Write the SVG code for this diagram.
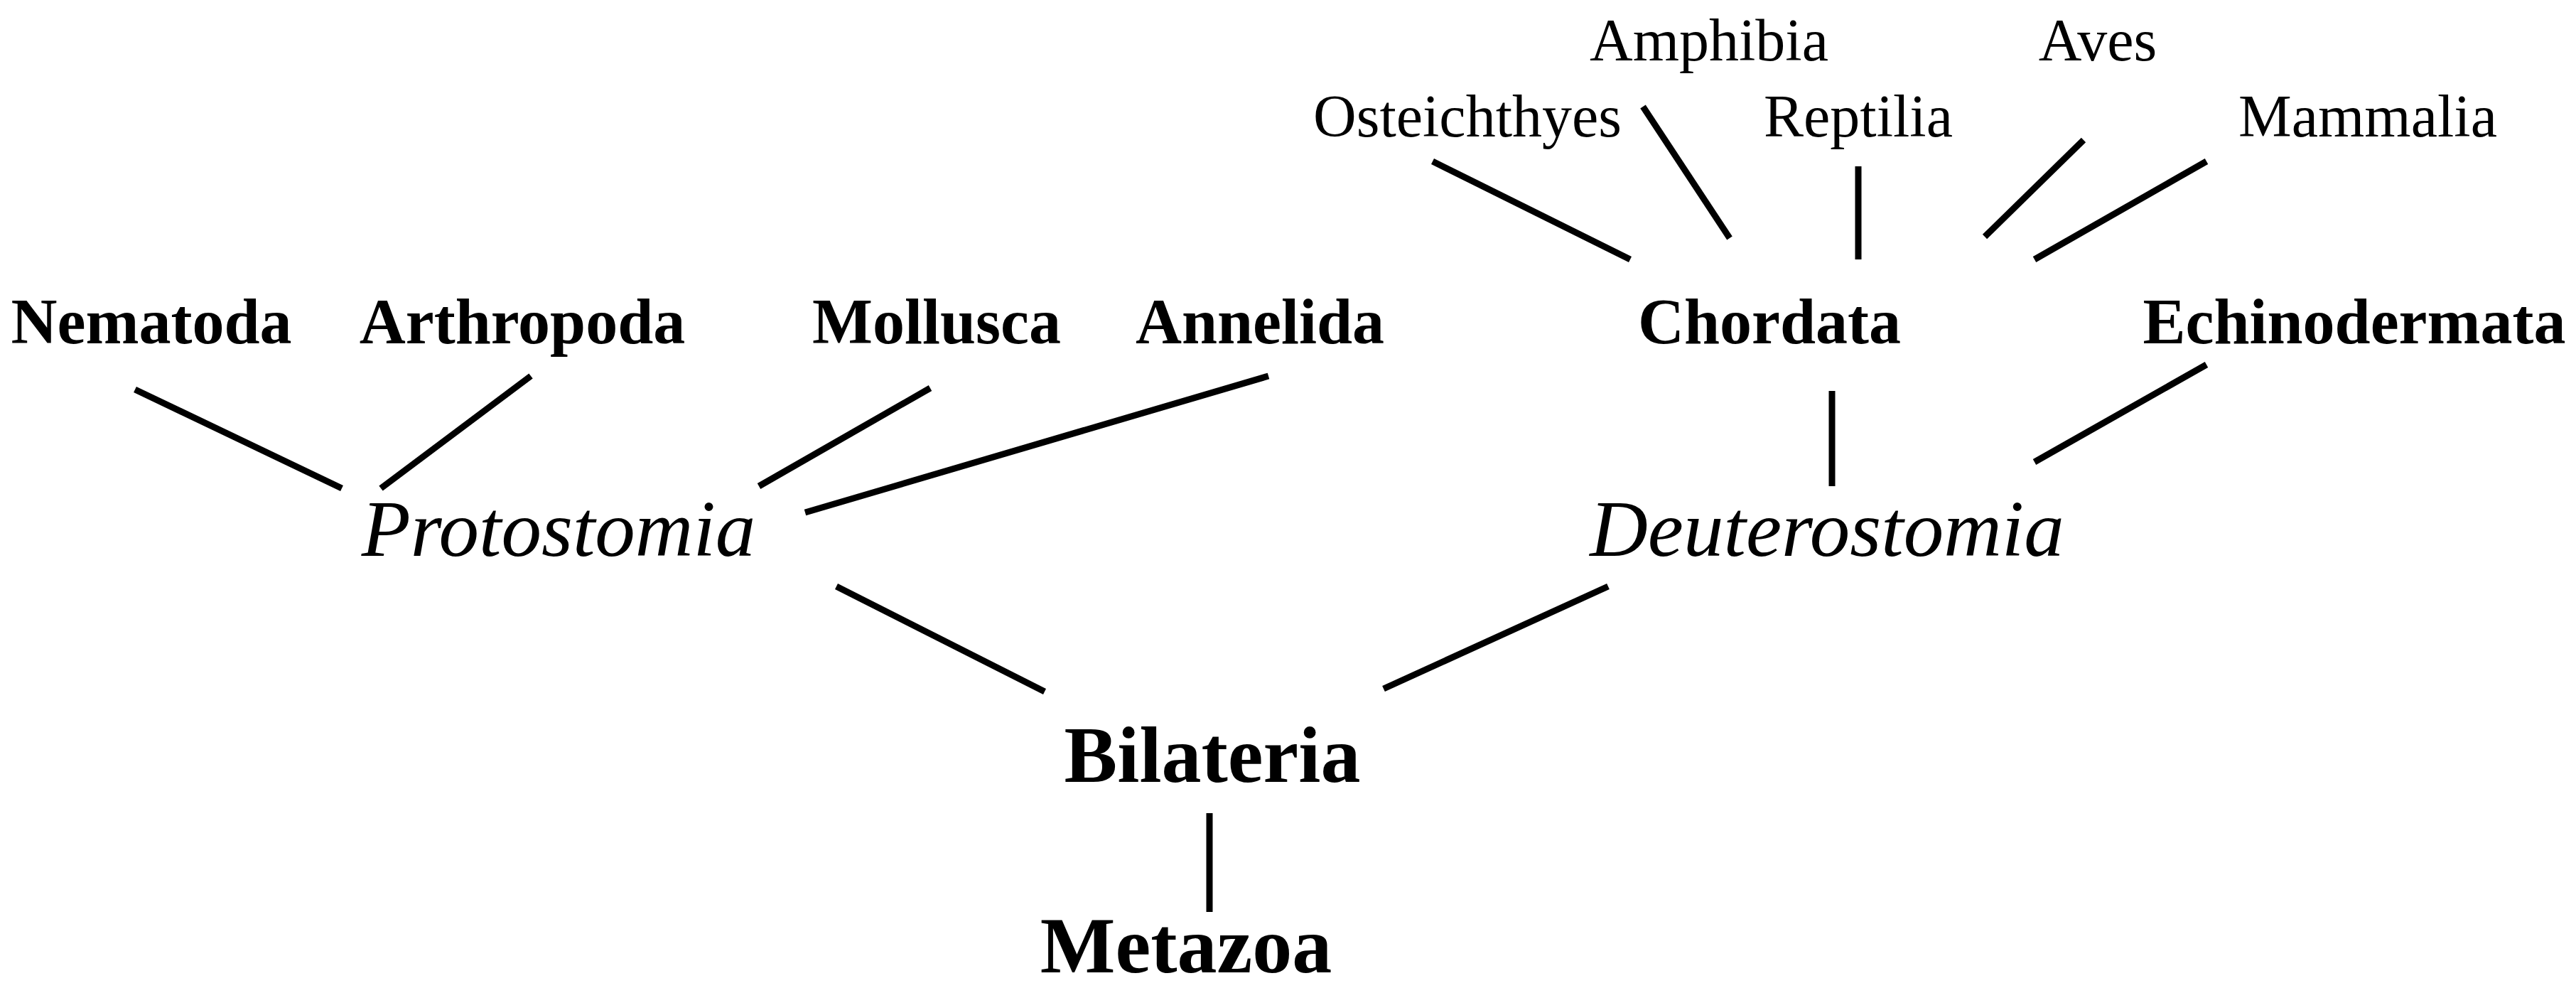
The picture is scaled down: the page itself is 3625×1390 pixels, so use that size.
<svg xmlns="http://www.w3.org/2000/svg" width="3625" height="1390" viewBox="0 0 3625 1390">
<style>
text{font-family:"Liberation Serif","Times New Roman",serif;text-anchor:middle;fill:#000}
.s{font-size:84px}
.b{font-size:90px;font-weight:bold}
.i{font-size:113px;font-style:italic}
.r{font-size:112px;font-weight:bold}
#edges line{stroke:#000;stroke-width:9}
</style>
<rect width="3625" height="1390" fill="#fff"/>
<g id="edges">
<line x1="2016" y1="227" x2="2294" y2="365"/>
<line x1="2312" y1="150" x2="2434" y2="335"/>
<line x1="2615" y1="234" x2="2615" y2="365"/>
<line x1="2932" y1="197" x2="2793" y2="333"/>
<line x1="3105" y1="227" x2="2863" y2="365"/>
<line x1="190" y1="548" x2="481" y2="687"/>
<line x1="747" y1="529" x2="536" y2="687"/>
<line x1="1309" y1="546" x2="1068" y2="684"/>
<line x1="1785" y1="529" x2="1133" y2="721"/>
<line x1="2578" y1="550" x2="2578" y2="684"/>
<line x1="3105" y1="513" x2="2863" y2="650"/>
<line x1="1177" y1="825" x2="1470" y2="973"/>
<line x1="2263" y1="825" x2="1947" y2="969"/>
<line x1="1702" y1="1144" x2="1702" y2="1283"/>
</g>
<g id="amphibia"><text class="s" x="2405" y="85">Amphibia</text></g>
<g id="aves"><text class="s" x="2952" y="85">Aves</text></g>
<g id="osteichthyes"><text class="s" x="2065" y="192">Osteichthyes</text></g>
<g id="reptilia"><text class="s" x="2615" y="192">Reptilia</text></g>
<g id="mammalia"><text class="s" x="3332" y="192">Mammalia</text></g>
<g id="nematoda"><text class="b" x="213" y="483">Nematoda</text></g>
<g id="arthropoda"><text class="b" x="735" y="483">Arthropoda</text></g>
<g id="mollusca"><text class="b" x="1318" y="483">Mollusca</text></g>
<g id="annelida"><text class="b" x="1773" y="483">Annelida</text></g>
<g id="chordata"><text class="b" x="2490" y="483">Chordata</text></g>
<g id="echinodermata"><text class="b" x="3313" y="483">Echinodermata</text></g>
<g id="protostomia"><text class="i" x="786" y="782">Protostomia</text></g>
<g id="deuterostomia"><text class="i" x="2571" y="782">Deuterostomia</text></g>
<g id="bilateria"><text class="r" x="1706" y="1100">Bilateria</text></g>
<g id="metazoa"><text class="r" x="1669" y="1368">Metazoa</text></g>
</svg>
